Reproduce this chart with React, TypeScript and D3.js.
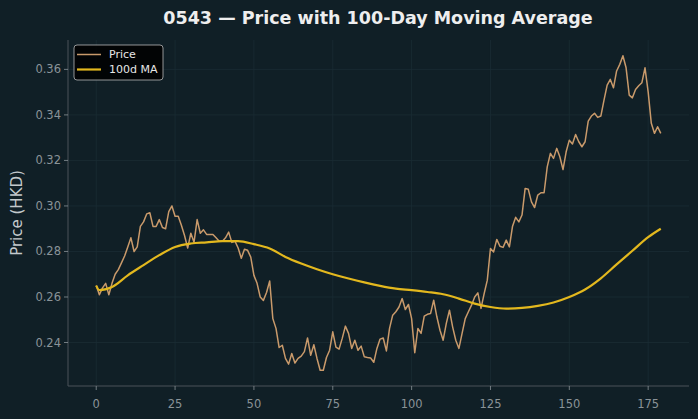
import React from "react";
import * as d3 from "d3";

// daily close, index 0..179
const price = [
  0.265, 0.261, 0.264, 0.266, 0.261, 0.266, 0.270, 0.272, 0.275, 0.278,
  0.282, 0.286, 0.280, 0.282, 0.291, 0.293, 0.2965, 0.297, 0.291, 0.291,
  0.294, 0.2905, 0.290, 0.2975, 0.300, 0.2955, 0.2955, 0.2915, 0.287, 0.2815,
  0.288, 0.284, 0.294, 0.288, 0.2895, 0.2875, 0.2875, 0.2875, 0.286, 0.2845,
  0.2845, 0.286, 0.2885, 0.284, 0.2845, 0.2815, 0.277, 0.281, 0.2805, 0.2775,
  0.2695, 0.266, 0.260, 0.2585, 0.262, 0.267, 0.2505, 0.2462, 0.2378, 0.2388,
  0.233, 0.2305, 0.2352, 0.231, 0.233, 0.234, 0.236, 0.242, 0.2344, 0.239,
  0.233, 0.2278, 0.2278, 0.2334, 0.2366, 0.2447, 0.238, 0.2371, 0.2418, 0.2472,
  0.244, 0.2374, 0.241, 0.2366, 0.2384, 0.2337, 0.2334, 0.2332, 0.2313, 0.2374,
  0.2415, 0.242, 0.2363, 0.2462, 0.252, 0.2535, 0.2556, 0.2593, 0.2545, 0.2567,
  0.2505, 0.2355, 0.2462, 0.244, 0.2516, 0.2524, 0.2527, 0.2586, 0.2513, 0.2454,
  0.241, 0.2484, 0.2542, 0.2469, 0.241, 0.2374, 0.244, 0.2505, 0.2535, 0.2564,
  0.260, 0.2618, 0.255, 0.2615, 0.2674, 0.2813, 0.2798, 0.2853, 0.2823, 0.2818,
  0.285, 0.282, 0.2911, 0.295, 0.293, 0.296, 0.3077, 0.3073, 0.3018, 0.2993,
  0.3048, 0.3058, 0.3058, 0.3172, 0.3231, 0.3209, 0.3253, 0.3216, 0.316, 0.3238,
  0.3289, 0.3272, 0.3314, 0.3282, 0.326, 0.3282, 0.3373, 0.3395, 0.3407, 0.3389,
  0.3395, 0.3465, 0.3531, 0.3556, 0.3519, 0.3593, 0.3622, 0.366, 0.3607, 0.3487,
  0.3475, 0.3512, 0.3528, 0.3541, 0.3607, 0.3501, 0.3363, 0.3319, 0.3348, 0.3319,
];

// 100d moving average, read every 5 days (+ last day)
const maDays = [
  0, 1, 5, 10, 15, 20, 25, 30, 35, 40, 45, 50, 55, 60, 65, 70, 75, 80, 85,
  90, 95, 100, 105, 110, 115, 120, 125, 130, 135, 140, 145, 150, 155, 160,
  165, 170, 175, 179,
];
const maValues = [
  0.265, 0.263, 0.2644, 0.2695, 0.274, 0.2784, 0.282, 0.2835, 0.284, 0.2845,
  0.2845, 0.2832, 0.2813, 0.2776, 0.2747, 0.2722, 0.270, 0.2681, 0.2664,
  0.2649, 0.2637, 0.263, 0.2622, 0.2612, 0.2593, 0.2571, 0.2556, 0.2549,
  0.2552, 0.2561, 0.2576, 0.260, 0.2633, 0.2682, 0.2743, 0.2803, 0.2863, 0.290,
];

const xTicks = [0, 25, 50, 75, 100, 125, 150, 175];
const yTicks = [0.24, 0.26, 0.28, 0.30, 0.32, 0.34, 0.36];

const W = 698;
const H = 419;
const BG = "#101f26";
const PRICE_COLOR = "#c99a6b";
const MA_COLOR = "#e3b81e";
const FONT = "DejaVu Sans, sans-serif";

export default function App() {
  const margin = { top: 40, right: 9, bottom: 33, left: 68 };
  const iw = W - margin.left - margin.right;
  const ih = H - margin.top - margin.bottom;

  const n = price.length - 1;
  const x = d3.scaleLinear()
    .domain( [ -n * 0.05, n * 1.05 ] )
    .range( [ 0, iw ] );

  const all = price.concat( maValues );
  const [ lo, hi ] = d3.extent( all ) as [ number, number ];
  const pad = ( hi - lo ) * 0.05;
  const y = d3.scaleLinear()
    .domain( [ lo - pad, hi + pad ] )
    .range( [ ih, 0 ] );

  const priceLine = d3.line<number>()
    .x( ( d, i ) => x( i ) )
    .y( d => y( d ) );

  const maLine = d3.line<number>()
    .x( ( d, i ) => x( maDays[ i ] ) )
    .y( d => y( d ) )
    .curve( d3.curveMonotoneX );

  return (
    <svg width={ W } height={ H } style={ { display: "block", position: "absolute", left: 0, top: 0, background: BG } }>
      <rect width={ W } height={ H } fill={ BG } />
      <text x={ 378 } y={ 24 } fill="#eeeeee" fontFamily={ FONT } fontSize={ 17.5 } fontWeight="bold" textAnchor="middle">
        0543 — Price with 100-Day Moving Average
      </text>

      <g transform={ `translate(${ margin.left },${ margin.top })` }>
        {/* grid */}
        { xTicks.map( t => (
          <line key={ "gx" + t } x1={ x( t ) } x2={ x( t ) } y1={ 0 } y2={ ih } stroke="#1b2c33" strokeWidth={ 0.8 } />
        ) ) }
        { yTicks.map( t => (
          <line key={ "gy" + t } x1={ 0 } x2={ iw } y1={ y( t ) } y2={ y( t ) } stroke="#1b2c33" strokeWidth={ 0.8 } />
        ) ) }

        {/* spines */}
        <line x1={ 0 } x2={ 0 } y1={ 0 } y2={ ih } stroke="#4a5358" strokeWidth={ 1 } />
        <line x1={ 0 } x2={ iw } y1={ ih } y2={ ih } stroke="#4a5358" strokeWidth={ 1 } />

        {/* ticks */}
        { xTicks.map( t => (
          <g key={ "tx" + t } transform={ `translate(${ x( t ) },${ ih })` }>
            <line y1={ 0 } y2={ 4 } stroke="#8a9398" strokeWidth={ 0.8 } />
            <text y={ 22 } fill="#8a9398" fontFamily={ FONT } fontSize={ 11.5 } textAnchor="middle">{ t }</text>
          </g>
        ) ) }
        { yTicks.map( t => (
          <g key={ "ty" + t } transform={ `translate(0,${ y( t ) })` }>
            <line x1={ 0 } x2={ -4 } stroke="#8a9398" strokeWidth={ 0.8 } />
            <text x={ -7 } dy="0.35em" fill="#8a9398" fontFamily={ FONT } fontSize={ 11.5 } textAnchor="end">{ t.toFixed( 2 ) }</text>
          </g>
        ) ) }

        <path d={ priceLine( price ) || "" } fill="none" stroke={ PRICE_COLOR } strokeWidth={ 1.5 } strokeLinejoin="round" />
        <path d={ maLine( maValues ) || "" } fill="none" stroke={ MA_COLOR } strokeWidth={ 2.2 } strokeLinejoin="round" />

        {/* legend */}
        <g transform="translate(6,5)">
          <rect x={ 0 } y={ 0 } width={ 89 } height={ 35 } rx={ 3 } fill="#000000" fillOpacity={ 0.85 } stroke="#b8b8b8" strokeWidth={ 0.8 } />
          <line x1={ 3 } x2={ 27 } y1={ 9.5 } y2={ 9.5 } stroke={ PRICE_COLOR } strokeWidth={ 1.5 } />
          <text x={ 35 } y={ 9.5 } dy="0.35em" fill="#e6e6e6" fontFamily={ FONT } fontSize={ 11 }>Price</text>
          <line x1={ 3 } x2={ 27 } y1={ 24.5 } y2={ 24.5 } stroke={ MA_COLOR } strokeWidth={ 2.2 } />
          <text x={ 35 } y={ 24.5 } dy="0.35em" fill="#e6e6e6" fontFamily={ FONT } fontSize={ 11 }>100d MA</text>
        </g>
      </g>

      <text transform={ `translate(22,${ margin.top + ih / 2 }) rotate(-90)` } fill="#c3c9cc" fontFamily={ FONT } fontSize={ 15 } textAnchor="middle">
        Price (HKD)
      </text>
    </svg>
  );
}
